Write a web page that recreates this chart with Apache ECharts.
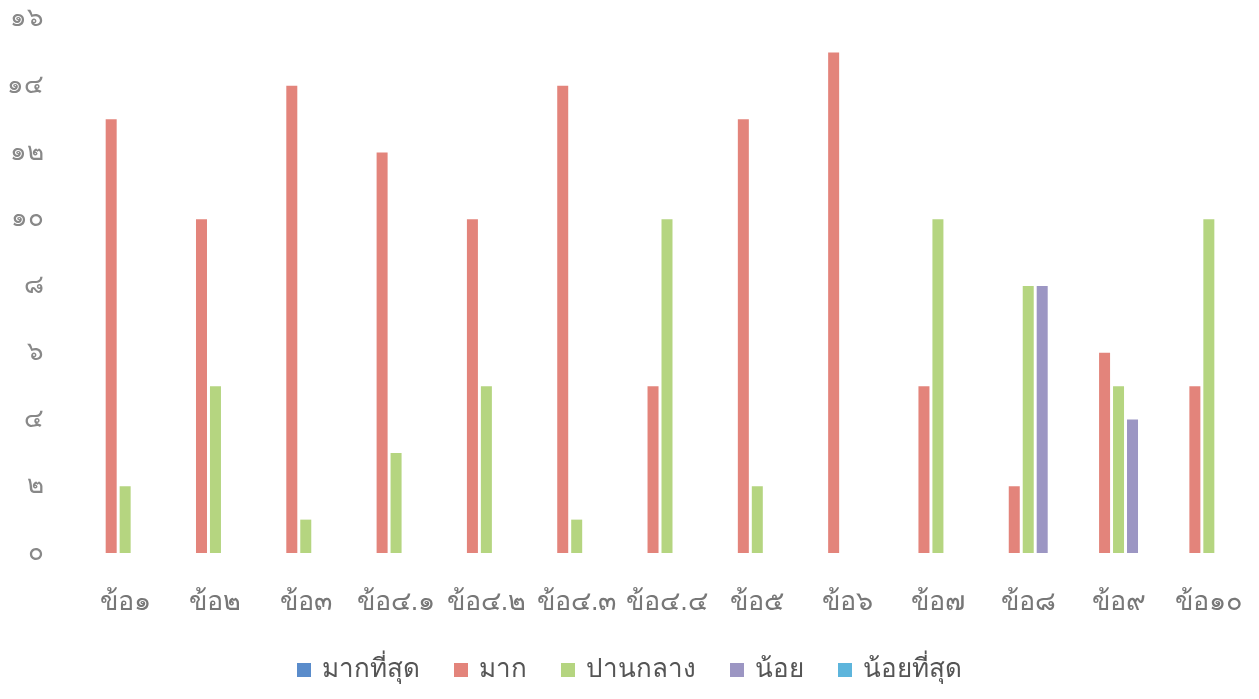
<!DOCTYPE html>
<html><head><meta charset="utf-8">
<script src="https://cdn.jsdelivr.net/npm/echarts@6/dist/echarts.min.js"></script>
<style>html,body{margin:0;padding:0;background:#fff}#c{width:1259px;height:699px}</style>
</head><body><div id="c"></div>
<script>
const categories = ['ข้อ๑','ข้อ๒','ข้อ๓','ข้อ๔.๑','ข้อ๔.๒','ข้อ๔.๓','ข้อ๔.๔','ข้อ๕','ข้อ๖','ข้อ๗','ข้อ๘','ข้อ๙','ข้อ๑๐'];
const seriesNames = ['มากที่สุด','มาก','ปานกลาง','น้อย','น้อยที่สุด'];
const mostValues     = [0,0,0,0,0,0,0,0,0,0,0,0,0];
const muchValues     = [13,10,14,12,10,14,5,13,15,5,2,6,5];
const mediumValues   = [2,5,1,3,5,1,10,2,0,10,8,5,10];
const littleValues   = [0,0,0,0,0,0,0,0,0,0,8,4,0];
const leastValues    = [0,0,0,0,0,0,0,0,0,0,0,0,0];
const yTickLabels = {0:'๐',2:'๒',4:'๔',6:'๖',8:'๘',10:'๑๐',12:'๑๒',14:'๑๔',16:'๑๖'};
const colors = ['#5a8ccb','#e3847b','#b5d580','#9c96c3','#5db5dc'];

const allData = [mostValues, muchValues, mediumValues, littleValues, leastValues];
const chart = echarts.init(document.getElementById('c'));
chart.setOption({
  animation: false,
  color: colors,
  grid: {left: 80, right: 5, top: 19, bottom: 146},
  legend: {
    top: 652, left: 'center', itemWidth: 14, itemHeight: 14, itemGap: 34,
    icon: 'rect',
    textStyle: {fontSize: 26, color: '#555', fontFamily: 'sans-serif', padding: [0, 0, 0, 6]},
    data: seriesNames
  },
  xAxis: {
    type: 'category', data: categories,
    axisLine: {show: false}, axisTick: {show: false},
    axisLabel: {fontSize: 27, color: '#777', margin: 36, interval: 0}
  },
  yAxis: {
    type: 'value', min: 0, max: 16, interval: 2,
    splitLine: {show: false}, axisLine: {show: false}, axisTick: {show: false},
    axisLabel: {fontSize: 26, color: '#888', margin: 36, formatter: v => yTickLabels[v]}
  },
  series: seriesNames.map((n, i) => ({
    name: n, type: 'bar', data: allData[i], barWidth: 11, barGap: '27%'
  }))
});
</script></body></html>
